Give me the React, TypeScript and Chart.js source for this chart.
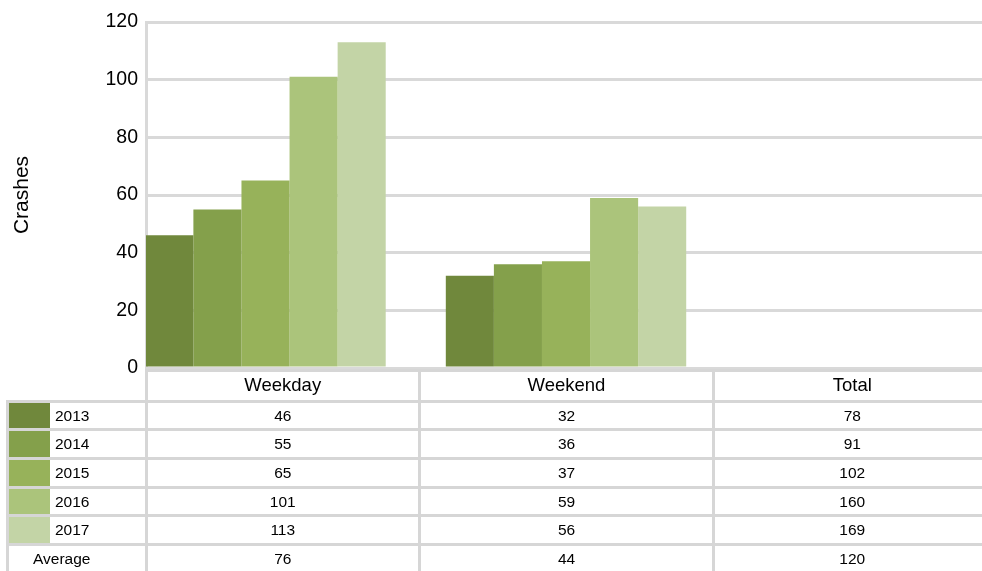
import React, { useEffect, useRef } from 'react';
import { Chart, registerables } from 'chart.js';

Chart.register(...registerables);

// ---- data ----
const categories = ['Weekday', 'Weekend', 'Total'];
const years = ['2013', '2014', '2015', '2016', '2017'];
const weekdayValues = [46, 55, 65, 101, 113];
const weekendValues = [32, 36, 37, 59, 56];
const totalValues = [78, 91, 102, 160, 169];
const averageLabel = 'Average';
const averageValues = [76, 44, 120];
const yAxisTitle = 'Crashes';
const yMin = 0;
const yMax = 120;
const yStep = 20;
const seriesColors = ['#70883c', '#84a04b', '#97b25a', '#abc47b', '#c3d4a6'];

const FONT = "'Liberation Sans', Arial, Helvetica, sans-serif";
const LINE = '#d6d6d6';
const LW = 3;

function ChartPart() {
  const ref = useRef<HTMLCanvasElement | null>(null);
  useEffect(() => {
    if (!ref.current) return;
    const datasets = years.map((yr, i) => ({
      label: yr,
      data: [
        { x: 0, y: weekdayValues[i] },
        { x: 1, y: weekendValues[i] },
      ],
      backgroundColor: seriesColors[i],
      borderWidth: 0,
      categoryPercentage: 0.8,
      barPercentage: 1.0,
    }));
    const chart = new Chart(ref.current, {
      type: 'bar',
      data: { datasets },
      options: {
        responsive: false,
        animation: false,
        layout: { padding: { top: 22, bottom: 22, left: 0, right: 0 } },
        plugins: { legend: { display: false }, tooltip: { enabled: false } },
        scales: {
          x: {
            type: 'linear',
            display: false,
            offset: false,
            min: -0.3977,
            max: 2.3843,
            afterBuildTicks: (scale: any) => {
              scale.ticks = [{ value: 0 }];
            },
          },
          y: {
            min: yMin,
            max: yMax,
            afterFit: (scale: any) => {
              scale.width = 146;
            },
            ticks: {
              stepSize: yStep,
              padding: 8,
              color: '#000',
              font: { family: FONT, size: 19.5 },
            },
            grid: { color: '#d9d9d9', lineWidth: LW, drawTicks: false },
            border: { display: true, color: '#d9d9d9', width: LW },
            title: {
              display: true,
              text: yAxisTitle,
              color: '#000',
              font: { family: FONT, size: 21 },
              padding: { top: 10, bottom: 0 },
            },
          },
        },
      },
    } as any);
    return () => chart.destroy();
  }, []);
  return (
    <canvas
      ref={ref}
      width={982}
      height={390}
      style={{ position: 'absolute', left: 0, top: 0, width: 982, height: 390, display: 'block' }}
    />
  );
}

function TablePart() {
  const colX = [146, 419.5, 713.5, 991];
  const leftX = 7.5;
  const headerTop = 370;
  const rowLines = [401, 429.7, 458.4, 487.1, 515.8, 544.5, 573.2];
  const bottom = 580;
  const els: React.ReactNode[] = [];
  let k = 0;
  const line = (l: number, t: number, w: number, h: number) =>
    els.push(
      <div key={k++} style={{ position: 'absolute', left: l, top: t, width: w, height: h, background: LINE }} />
    );
  const text = (l: number, t: number, w: number, h: number, s: string | number, size: number, align: string) =>
    els.push(
      <div
        key={k++}
        style={{
          position: 'absolute',
          left: l,
          top: t,
          width: w,
          height: h,
          display: 'flex',
          alignItems: 'center',
          justifyContent: align,
          fontFamily: FONT,
          fontSize: size,
          color: '#000',
          lineHeight: 1,
          whiteSpace: 'nowrap',
        }}
      >
        {s}
      </div>
    );

  // header
  line(colX[0] - LW / 2, headerTop - LW / 2, colX[3] - colX[0] + LW, LW);
  for (let j = 0; j < 3; j++) {
    text(colX[j], headerTop, colX[j + 1] - colX[j], rowLines[0] - headerTop, categories[j], 18.5, 'center');
  }
  // row lines
  rowLines.forEach((y) => line(leftX - LW / 2, y - LW / 2, colX[3] - leftX + LW, LW));
  // vertical lines
  line(leftX - LW / 2, rowLines[0] - LW / 2, LW, bottom - rowLines[0]);
  for (let j = 0; j < 3; j++) line(colX[j] - LW / 2, headerTop - LW / 2, LW, bottom - headerTop);

  const rows = years.map((y, i) => [weekdayValues[i], weekendValues[i], totalValues[i]]);
  years.forEach((yr, i) => {
    const t = rowLines[i];
    const h = rowLines[i + 1] - rowLines[i];
    els.push(
      <div
        key={k++}
        style={{
          position: 'absolute',
          left: leftX + LW / 2,
          top: t + LW / 2,
          width: 50 - (leftX + LW / 2),
          height: h - LW,
          background: seriesColors[i],
        }}
      />
    );
    text(55, t, 80, h, yr, 15.5, 'flex-start');
    for (let j = 0; j < 3; j++) text(colX[j], t, colX[j + 1] - colX[j], h, rows[i][j], 15.5, 'center');
  });
  {
    const t = rowLines[5];
    const h = rowLines[6] - rowLines[5];
    text(33, t, 110, h, averageLabel, 15.5, 'flex-start');
    for (let j = 0; j < 3; j++) text(colX[j], t, colX[j + 1] - colX[j], h, averageValues[j], 15.5, 'center');
  }
  return <>{els}</>;
}

export default function App() {
  return (
    <div
      style={{
        position: 'absolute',
        left: 0,
        top: 0,
        width: 982,
        height: 571,
        overflow: 'hidden',
        background: '#fff',
      }}
    >
      <ChartPart />
      <TablePart />
    </div>
  );
}
